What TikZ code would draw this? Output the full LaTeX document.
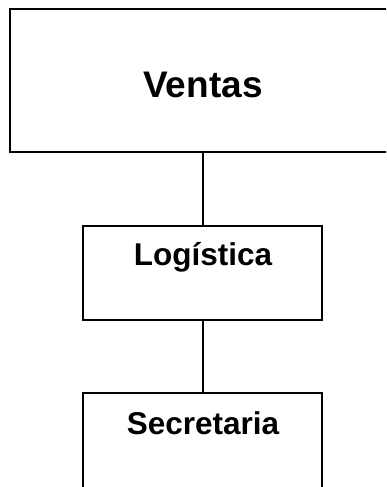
\documentclass[tikz,border=0pt]{standalone}
\usepackage{fontspec}
\setmainfont{Liberation Sans}
\begin{document}
\begin{tikzpicture}[x=1pt,y=1pt,
  box/.style={draw=black,line width=2pt,rectangle,inner sep=0pt,fill=white},
  lbl/.style={anchor=base,inner sep=0pt,font=\bfseries},
  conn/.style={draw=black,line width=2pt}]
\useasboundingbox (0,0) rectangle (386,487);
\clip (0,0) rectangle (386,487);
\fill[white] (0,0) rectangle (386,487);
\node[box,minimum width=386pt,minimum height=143pt] (ventas) at (203,406.5) {};
\node[box,minimum width=239pt,minimum height=94pt] (logistica) at (202.5,214) {};
\node[box,minimum width=239pt,minimum height=99pt] (secretaria) at (202.5,44.5) {};
\draw[conn] (ventas.south -| 203,0) -- (logistica.north -| 203,0);
\draw[conn] (logistica.south -| 203,0) -- (secretaria.north -| 203,0);
\node[lbl,font=\fontsize{37}{40}\selectfont\bfseries] (tventas) at (203,389.5) {Ventas};
\node[lbl,font=\fontsize{31.5}{34}\selectfont\bfseries] (tlogistica) at (203,221.3) {Logística};
\node[lbl,font=\fontsize{31.5}{34}\selectfont\bfseries] (tsecretaria) at (203,52) {Secretaria};
\end{tikzpicture}
\end{document}
